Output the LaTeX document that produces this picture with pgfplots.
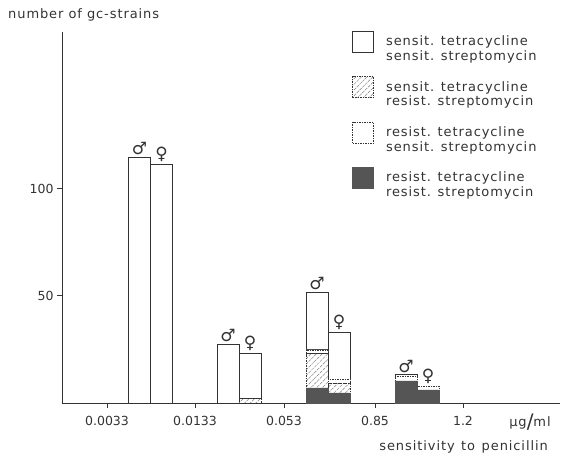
\documentclass[border=0pt]{standalone}
\usepackage{fontspec}
\setmainfont{DejaVu Sans}
\newfontfamily\lab{DejaVu Sans}[LetterSpace=7]
\usepackage{pgfplots}
\pgfplotsset{compat=1.18}
\usetikzlibrary{patterns.meta}
\definecolor{ink}{HTML}{333333}
\definecolor{darkfill}{HTML}{555555}
\newcommand\lt[2]{{\lab\fontsize{13bp}{14.7bp}\selectfont\begin{tabular}[c]{@{}l@{}}#1\\#2\end{tabular}}}
\newcommand\sy[1]{{\fontsize{17bp}{17bp}\selectfont #1}}
\pgfplotsset{
  legimg/.style={legend image code/.code={\draw[##1] (0bp,-7.25bp) rectangle (21bp,13.75bp);}},
  sDark/.style={fill=darkfill, draw=darkfill, line width=0.6bp},
  sHatch/.style={pattern={Lines[angle=45,distance=4bp,line width=0.5bp]}, pattern color=gray,
    draw=ink, dash pattern=on 1.5bp off 1bp, line width=0.6bp},
  sDash/.style={fill=white, draw=ink, dash pattern=on 1.5bp off 1bp, line width=0.6bp},
  sWhite/.style={fill=white, draw=ink, line width=0.9bp},
}
\begin{document}
\begin{tikzpicture}
\useasboundingbox (0,0) rectangle (564bp,461bp);
\begin{axis}[
  at={(62bp,58bp)}, anchor=south west,
  scale only axis, width=498bp, height=371bp,
  xmin=0, xmax=498, ymin=0, ymax=173,
  axis lines=left, axis line style={-, draw=ink, line width=0.9bp},
  ybar stacked, bar width=22,
  tick align=outside, major tick length=5bp,
  tick style={draw=ink, line width=0.8bp},
  xtick={45,133,222,313,401},
  xticklabels={0.0033,0.0133,0.053,0.85,1.2},
  ytick={50,100}, yticklabels={50,100},
  ticklabel style={font=\fontsize{12.5bp}{14bp}\selectfont, text=ink},
  xticklabel style={yshift=-5bp},
  clip=false,
  legend style={at={(0.5823,1.003)}, anchor=north west, draw=none, fill=none,
    inner sep=0pt, row sep=21.6bp, column sep=12bp,
    nodes={inner sep=0pt, text=ink}},
  legend cell align=left,
]
\addplot[sDark, forget plot]
  coordinates {(77.5,0) (99.5,0) (166,0) (188,0) (255,7) (277,4.7) (344,10.3) (366,6.1)};
\addplot[sHatch, forget plot]
  coordinates {(77.5,0) (99.5,0) (166,0) (188,2) (255,16) (277,4.6) (344,0) (366,0)};
\addplot[sDash, forget plot]
  coordinates {(77.5,0) (99.5,0) (166,0) (188,0) (255,1.8) (277,1.9) (344,2.2) (366,1.8)};
\addplot[sWhite, forget plot]
  coordinates {(77.5,114.7) (99.5,111.4) (166,27.5) (188,21.3) (255,26.9) (277,21.9) (344,0.6) (366,0)};
\addlegendimage{sWhite, legimg}
\addlegendentry{\lt{sensit. tetracycline}{sensit. streptomycin}}
\addlegendimage{sHatch, legimg}
\addlegendentry{\lt{sensit. tetracycline}{resist. streptomycin}}
\addlegendimage{sDash, legimg}
\addlegendentry{\lt{resist. tetracycline}{sensit. streptomycin}}
\addlegendimage{sDark, legimg}
\addlegendentry{\lt{resist. tetracycline}{resist. streptomycin}}
\node[anchor=south, text=ink, inner sep=1bp] at (axis cs:77.5,115.3) {\sy{♂}};
\node[anchor=south, text=ink, inner sep=1bp] at (axis cs:99.5,112.0) {\sy{♀}};
\node[anchor=south, text=ink, inner sep=1bp] at (axis cs:166,28.1) {\sy{♂}};
\node[anchor=south, text=ink, inner sep=1bp] at (axis cs:188,23.9) {\sy{♀}};
\node[anchor=south, text=ink, inner sep=1bp] at (axis cs:255,52.3) {\sy{♂}};
\node[anchor=south, text=ink, inner sep=1bp] at (axis cs:277,33.7) {\sy{♀}};
\node[anchor=south, text=ink, inner sep=1bp] at (axis cs:344,13.7) {\sy{♂}};
\node[anchor=south, text=ink, inner sep=1bp] at (axis cs:366,8.5) {\sy{♀}};
\end{axis}
\node[anchor=west, text=ink, inner sep=0pt] at (8bp,446bp) {\lab\fontsize{13bp}{15bp}\selectfont number of gc-strains};
\node[text=ink, inner sep=0pt] at (530bp,39bp) {\lab\fontsize{13bp}{15bp}\selectfont μg\raisebox{-2bp}{\fontsize{20bp}{20bp}\selectfont /}ml};
\node[anchor=east, text=ink, inner sep=0pt] at (548bp,14bp) {\lab\fontsize{13bp}{15bp}\selectfont sensitivity\hspace{0.5em}to\hspace{0.5em}penicillin};
\end{tikzpicture}
\end{document}
